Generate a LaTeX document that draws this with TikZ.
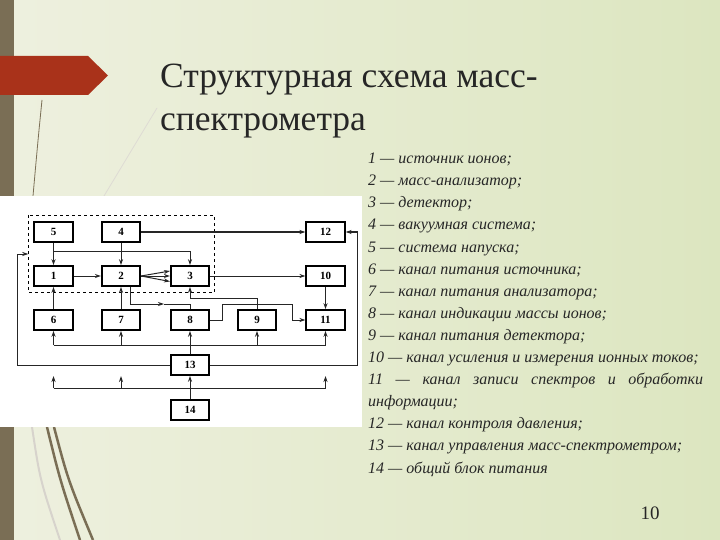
\documentclass[tikz,border=0pt]{standalone}
\usepackage{fontspec}
\setmainfont{Liberation Serif}
\usetikzlibrary{arrows.meta}
\definecolor{barcol}{HTML}{7A6E55}
\definecolor{redcol}{HTML}{A9321A}
\definecolor{bgleft}{HTML}{EEF0DF}
\definecolor{bgright}{HTML}{DCE6C0}
\definecolor{txtcol}{HTML}{262626}
\tikzset{
	blk/.style={draw=black,line width=1.6pt,fill=white,minimum width=38.5pt,minimum height=20pt,inner sep=0pt,font=\fontsize{11}{12}\selectfont\bfseries},
	ln/.style={line width=1pt,draw=black!85},
	arr/.style={ln,-{Stealth[length=6pt,width=4pt]}}
}
\begin{document}
	\begin{tikzpicture}[x=1pt,y=-1pt]
		\useasboundingbox (0,0) rectangle (720,540);
		% slide background
		\shade[left color=bgleft,right color=bgright] (0,0) rectangle (720,540);
		\fill[barcol] (0,0) rectangle (14,540);
		\fill[redcol] (0,56) -- (88,56) -- (108,75.5) -- (88,95) -- (0,95) -- cycle;
		\draw[barcol,line width=0.8pt] (42,100) .. controls (38,140) .. (33,196);
		\draw[barcol!25,line width=0.8pt] (157,108) -- (104,196);
		\draw[barcol,line width=2.5pt] (47,427) .. controls (60,480) .. (80,540);
		\draw[barcol,line width=2.5pt] (54,427) .. controls (68,480) .. (93,540);
		\draw[barcol!30,line width=2pt] (32,427) .. controls (40,480) .. (60,540);
		% title
		\node[anchor=base west,text=txtcol,align=left,font=\fontsize{35.5}{43.4}\selectfont,inner sep=0pt] (title) at (160,130.7)
			{Структурная схема масс-\\спектрометра};
		% legend
		\node[anchor=base west,text=txtcol,align=left,inner sep=0pt,font=\fontsize{16}{22.1}\selectfont\itshape] (legend) at (368,473)
			{1 — источник ионов;\\
			2 — масс-анализатор;\\
			3 — детектор;\\
			4 — вакуумная система;\\
			5 — система напуска;\\
			6 — канал питания источника;\\
			7 — канал питания анализатора;\\
			8 — канал индикации массы ионов;\\
			9 — канал питания детектора;\\
			10 — канал усиления и измерения ионных токов;\\
			\makebox[335pt][s]{11 — канал записи спектров и обработки}\\
			информации;\\
			12 — канал контроля давления;\\
			13 — канал управления масс-спектрометром;\\
			14 — общий блок питания};
		\node[text=txtcol,font=\fontsize{19}{22}\selectfont] (pagenum) at (650,513) {10};
		% diagram
		\fill[white] (0,196) rectangle (362,427);
		\draw[dashed,line width=0.9pt] (28.3,215) rectangle (214.3,292.3);
		\coordinate (F) at (28.3,215);
		\node[blk] (b5) at (53.5,232) {5};
		\node[blk] (b4) at (121,232) {4};
		\node[blk] (b12) at (325.5,232) {12};
		\node[blk] (b1) at (53.5,276) {1};
		\node[blk] (b2) at (121,276) {2};
		\node[blk] (b3) at (190,276) {3};
		\node[blk] (b10) at (325.5,276) {10};
		\node[blk] (b6) at (53.5,320) {6};
		\node[blk] (b7) at (121,320) {7};
		\node[blk] (b8) at (190,320) {8};
		\node[blk] (b9) at (257,320) {9};
		\node[blk] (b11) at (325.5,320) {11};
		\node[blk] (b13) at (190,365) {13};
		\node[blk] (b14) at (190,410) {14};
		\coordinate (J5) at (53.5,251);
		\coordinate (K28) at (190,304);
		\coordinate (M28) at (164,304);
		\coordinate (K93) at (190,298);
		\coordinate (A8) at (222,320);
		\coordinate (B8) at (222,304);
		\coordinate (C8) at (292,304);
		\coordinate (K13) at (190,345);
		\coordinate (K14) at (190,388);
		\coordinate (CL) at (17.3,254);
		\coordinate (CR) at (357,232);
		\draw[arr] (b5) -- (b1);
		\draw[arr] (J5) -| (b3.north);
		\draw[arr] (b4) -- (b2);
		\draw[arr] (b4.east) -- (b12.west);
		\draw[arr] (b1) -- (b2);
		\draw[arr] (b2.east) -- ([yshift=-5.5pt]b3.west);
		\draw[arr] (b2.east) -- (b3.west);
		\draw[arr] (b2.east) -- ([yshift=5pt]b3.west);
		\draw[arr] (b3) -- (b10);
		\draw[arr] (b10) -- (b11);
		\draw[arr] (b6) -- (b1);
		\draw[arr] (b7) -- (b2);
		\draw[arr] ([xshift=9.7pt]b2.south) |- (M28);
		\draw[ln] (M28) -- (K28) -- (b8.north);
		\draw[arr] (b9.north) |- (K93) -- (b3.south);
		\draw[arr] (b8.east) -- (A8) -- (B8) -- (C8) |- (b11.west);
		\draw[arr] (b13) -- (b8);
		\draw[ln] (b6.south |- K13) -- (b11.south |- K13);
		\draw[arr] (b6.south |- K13) -- (b6.south);
		\draw[arr] (b7.south |- K13) -- (b7.south);
		\draw[arr] (b9.south |- K13) -- (b9.south);
		\draw[arr] (b11.south |- K13) -- (b11.south);
		\draw[arr] (b13.west) -| (CL) -- (CL -| F);
		\draw[arr] (b13.east) -| (CR) -- (b12.east);
		\draw[arr] (b14) -- (b13);
		\draw[ln] (b6.south |- K14) -- (b11.south |- K14);
		\draw[arr] (b6.south |- K14) -- ++(0,-12);
		\draw[arr] (b7.south |- K14) -- ++(0,-12);
		\draw[arr] (b11.south |- K14) -- ++(0,-12);
	\end{tikzpicture}
\end{document}
